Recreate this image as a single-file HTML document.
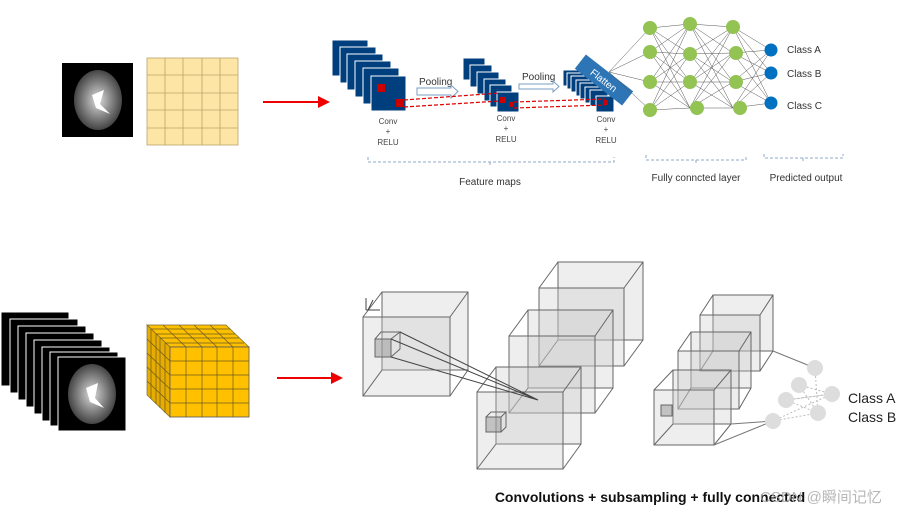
<!DOCTYPE html>
<html><head><meta charset="utf-8"><style>
body{margin:0;background:#fff;width:910px;height:517px;overflow:hidden}
svg{display:block;font-family:"Liberation Sans","Noto Sans CJK SC",sans-serif}
</style></head><body>
<svg width="910" height="517" viewBox="0 0 910 517">
<defs>
<marker id="ra" markerWidth="6" markerHeight="6" refX="5" refY="3" orient="auto"><path d="M0,0L6,3L0,6z" fill="#e00"/></marker>
<radialGradient id="br" cx="50%" cy="50%" r="50%"><stop offset="0" stop-color="#ddd"/><stop offset=".55" stop-color="#888"/><stop offset="1" stop-color="#444"/></radialGradient>
</defs>
<!-- top brain -->
<rect x="62" y="63" width="71" height="74" fill="#000"/>
<ellipse cx="98" cy="100" rx="24" ry="30" fill="url(#br)"/>
<path d="M92,95 L104,90 L100,104 L110,114 L96,108 Z" fill="#fff"/>
<!-- grid -->
<g fill="#fde5a5" stroke="#b9a46a" stroke-width="0.8">
<rect x="147" y="58" width="91" height="87"/>
</g>
<g stroke="#b9a46a" stroke-width="0.8">
<line x1="165" y1="58" x2="165" y2="145"/><line x1="183" y1="58" x2="183" y2="145"/><line x1="202" y1="58" x2="202" y2="145"/><line x1="220" y1="58" x2="220" y2="145"/>
<line x1="147" y1="75" x2="238" y2="75"/><line x1="147" y1="93" x2="238" y2="93"/><line x1="147" y1="110" x2="238" y2="110"/><line x1="147" y1="128" x2="238" y2="128"/>
</g>
<line x1="263" y1="102" x2="328" y2="102" stroke="#e00" stroke-width="2" marker-end="url(#ra)"/>
<!-- stack 1 -->
<g fill="#003f7d" stroke="#fff" stroke-width="1">
<rect x="332" y="40" width="36" height="36"/><rect x="340" y="47" width="36" height="36"/><rect x="347" y="54" width="36" height="36"/><rect x="355" y="61" width="36" height="36"/><rect x="363" y="68" width="36" height="36"/><rect x="371" y="76" width="35" height="35"/>
</g>
<rect x="377" y="84" width="8" height="8" fill="#c00"/><rect x="396" y="99" width="8" height="8" fill="#c00"/>
<text x="419" y="85" font-size="10" fill="#333">Pooling</text>
<path d="M417,88h34v-3l7,6.5l-7,6.5v-3h-34z" fill="#fff" stroke="#7a9cc6"/>
<!-- stack 2 -->
<g fill="#003f7d" stroke="#fff" stroke-width="1">
<rect x="463" y="58" width="22" height="22"/><rect x="470" y="65" width="22" height="22"/><rect x="477" y="72" width="22" height="22"/><rect x="484" y="79" width="22" height="22"/><rect x="490" y="85" width="22" height="22"/><rect x="497" y="92" width="22" height="20"/>
</g>
<rect x="500" y="97" width="6" height="6" fill="#c00"/><rect x="509" y="102" width="5" height="5" fill="#c00"/>
<text x="522" y="80" font-size="10" fill="#333">Pooling</text>
<path d="M519,84h34v-3l6,5.5l-6,5.5v-3h-34z" fill="#fff" stroke="#7a9cc6"/>
<!-- stack 3 -->
<g fill="#003f7d" stroke="#fff" stroke-width="1">
<rect x="563" y="70" width="18" height="16"/><rect x="567" y="73" width="18" height="16"/><rect x="571" y="76" width="18" height="16"/><rect x="576" y="80" width="18" height="16"/><rect x="580" y="83" width="18" height="16"/><rect x="585" y="87" width="18" height="16"/><rect x="590" y="90" width="18" height="16"/><rect x="596" y="96" width="18" height="16"/>
</g>
<rect x="603" y="100" width="5" height="5" fill="#c00"/>
<g stroke="#d00" stroke-width="1.2" stroke-dasharray="4,2" fill="none">
<line x1="404" y1="100" x2="500" y2="93"/><line x1="404" y1="107" x2="500" y2="101"/>
<line x1="514" y1="102" x2="605" y2="99"/><line x1="514" y1="108" x2="605" y2="105"/>
</g>
<g transform="translate(604,80) rotate(38)">
<rect x="-30" y="-9" width="60" height="18" fill="#2e75b6"/>
<text x="0" y="4" font-size="10" fill="#fff" text-anchor="middle">Flatten</text>
</g>
<g font-size="8" fill="#444" text-anchor="middle">
<text x="388" y="124">Conv</text><text x="388" y="134">+</text><text x="388" y="145">RELU</text>
<text x="506" y="121">Conv</text><text x="506" y="131">+</text><text x="506" y="142">RELU</text>
<text x="606" y="122">Conv</text><text x="606" y="132">+</text><text x="606" y="143">RELU</text>
</g>
<g stroke="#8fa9c8" stroke-width="1" stroke-dasharray="3,2" fill="none">
<path d="M368,157v5h246v-5M490,162v5"/>
<path d="M646,155v5h100v-5M696,160v5"/>
<path d="M764,154v4h79v-4M803,158v5"/>
</g>
<g font-size="10" fill="#333" text-anchor="middle">
<text x="490" y="185">Feature maps</text>
<text x="696" y="181">Fully conncted layer</text>
<text x="806" y="181">Predicted output</text>
</g>
<!-- NN -->
<g stroke="#555" stroke-width="0.5">
<path d="M609,72L650,28M609,72L650,52M609,72L650,82M609,72L650,110"/>
<path d="M650,28L690,24M650,28L690,54M650,28L690,82M650,28L690,108M650,52L690,24M650,52L690,54M650,52L690,82M650,52L690,108M650,82L690,24M650,82L690,54M650,82L690,82M650,82L690,108M650,110L690,24M650,110L690,54M650,110L690,82M650,110L690,108"/>
<path d="M690,24L733,27M690,24L733,53M690,24L733,82M690,24L733,108M690,54L733,27M690,54L733,53M690,54L733,82M690,54L733,108M690,82L733,27M690,82L733,53M690,82L733,82M690,82L733,108M690,108L733,27M690,108L733,53M690,108L733,82M690,108L733,108"/>
<path d="M733,27L771,50M733,27L771,73M733,27L771,103M733,53L771,50M733,53L771,73M733,53L771,103M733,82L771,50M733,82L771,73M733,82L771,103M733,108L771,50M733,108L771,73M733,108L771,103"/>
</g>
<g fill="#92c353">
<circle cx="650" cy="28" r="7"/><circle cx="650" cy="52" r="7"/><circle cx="650" cy="82" r="7"/><circle cx="650" cy="110" r="7"/>
<circle cx="690" cy="24" r="7"/><circle cx="690" cy="54" r="7"/><circle cx="690" cy="82" r="7"/><circle cx="697" cy="108" r="7"/>
<circle cx="733" cy="27" r="7"/><circle cx="736" cy="53" r="7"/><circle cx="736" cy="82" r="7"/><circle cx="740" cy="108" r="7"/>
</g>
<g fill="#0070c0"><circle cx="771" cy="50" r="6.5"/><circle cx="771" cy="73" r="6.5"/><circle cx="771" cy="103" r="6.5"/></g>
<g font-size="10" fill="#333"><text x="787" y="53">Class A</text><text x="787" y="77">Class B</text><text x="787" y="109">Class C</text></g>

<!-- bottom image stack -->
<g fill="#000" stroke="#fff" stroke-width="1">
<rect x="1" y="312" width="68" height="74"/><rect x="10" y="319" width="68" height="74"/><rect x="18" y="326" width="68" height="74"/><rect x="26" y="333" width="68" height="74"/><rect x="34" y="340" width="68" height="74"/><rect x="42" y="347" width="68" height="74"/><rect x="50" y="352" width="68" height="74"/><rect x="58" y="357" width="68" height="74"/>
</g>
<ellipse cx="92" cy="394" rx="24" ry="30" fill="url(#br)"/>
<path d="M86,388 L98,383 L95,398 L104,408 L90,402 Z" fill="#fff"/>
<!-- yellow cube -->
<polygon points="147,325 226,325 249,347 170,347" fill="#fcc000" stroke="#7a6a30" stroke-width="0.7"/>
<polygon points="147,325 170,347 170,417 147,395" fill="#e6ac00" stroke="#7a6a30" stroke-width="0.7"/>
<rect x="170" y="347" width="79" height="70" fill="#ffc000" stroke="#555" stroke-width="0.8"/>
<g stroke="#6b5a20" stroke-width="0.7">
<line x1="186" y1="347" x2="186" y2="417"/><line x1="202" y1="347" x2="202" y2="417"/><line x1="217" y1="347" x2="217" y2="417"/><line x1="233" y1="347" x2="233" y2="417"/>
<line x1="170" y1="361" x2="249" y2="361"/><line x1="170" y1="375" x2="249" y2="375"/><line x1="170" y1="389" x2="249" y2="389"/><line x1="170" y1="403" x2="249" y2="403"/>
<line x1="151" y1="329" x2="230" y2="329"/><line x1="156" y1="334" x2="235" y2="334"/><line x1="160" y1="338" x2="239" y2="338"/><line x1="165" y1="343" x2="244" y2="343"/>
<line x1="163" y1="325" x2="186" y2="347"/><line x1="179" y1="325" x2="202" y2="347"/><line x1="194" y1="325" x2="217" y2="347"/><line x1="210" y1="325" x2="233" y2="347"/>
<line x1="151" y1="329" x2="151" y2="399"/><line x1="156" y1="334" x2="156" y2="404"/><line x1="160" y1="338" x2="160" y2="408"/><line x1="165" y1="343" x2="165" y2="413"/>
<line x1="147" y1="339" x2="170" y2="361"/><line x1="147" y1="353" x2="170" y2="375"/><line x1="147" y1="367" x2="170" y2="389"/><line x1="147" y1="381" x2="170" y2="403"/>
</g>
<line x1="277" y1="378" x2="341" y2="378" stroke="#e00" stroke-width="2" marker-end="url(#ra)"/>

<!-- gray cubes -->
<g stroke="#666" stroke-width="1" fill="rgba(200,200,200,0.3)">
<g id="c4"><rect x="558" y="262" width="85" height="78"/><rect x="539" y="288" width="85" height="78"/><path d="M539,288L558,262M624,288L643,262M624,366L643,340M539,366L558,340" fill="none"/></g>
<rect x="528" y="310" width="85" height="78"/><rect x="509" y="336" width="86" height="77"/><path d="M509,336L528,310M595,336L613,310M595,413L613,388M509,413L528,388" fill="none"/>
<rect x="382" y="292" width="86" height="78"/><rect x="363" y="317" width="87" height="79"/><path d="M363,317L382,292M450,317L468,292M450,396L468,370M363,396L382,370" fill="none"/>
<rect x="496" y="367" width="85" height="77"/><rect x="477" y="392" width="86" height="77"/><path d="M477,392L496,367M563,392L581,367M563,469L581,444M477,469L496,444" fill="none"/>
<rect x="375" y="339" width="16" height="18" fill="rgba(150,150,150,0.5)"/><path d="M375,339l6,-7h19l-9,7M400,332v17l-9,8" fill="none"/>
<rect x="486" y="417" width="15" height="15" fill="rgba(150,150,150,0.5)"/><path d="M486,417l5,-5h15l-5,5M506,412v15l-5,5" fill="none"/>
<path d="M400,332L538,400L391,357M391,339L538,400" fill="none" stroke="#444"/>
<path d="M366,310v-12M366,310h14M368,310l5,-10" fill="none" stroke="#444"/>
<!-- right cubes -->
<rect x="713" y="295" width="60" height="56"/><rect x="700" y="315" width="60" height="56"/><path d="M700,315L713,295M760,315L773,295M760,371L773,351M700,371L713,351" fill="none"/>
<rect x="691" y="332" width="60" height="56"/><rect x="678" y="351" width="61" height="58"/><path d="M678,351L691,332M739,351L751,332M739,409L751,388M678,409L691,388" fill="none"/>
<rect x="673" y="370" width="58" height="54"/><rect x="654" y="390" width="60" height="55"/><path d="M654,390L673,370M714,390L731,370M714,445L731,424M654,445L673,424" fill="none"/>
<rect x="661" y="405" width="11" height="11" fill="rgba(150,150,150,0.5)"/>
</g>
<g stroke="#777" fill="none"><path d="M773,351L815,368M731,424L773,421M714,445L773,421"/></g>
<g stroke="#bbb" stroke-dasharray="2,2" fill="none"><path d="M799,385L832,394L786,400L818,413L773,421L832,394M815,368L818,413M799,385L818,413M786,400L832,394"/></g>
<g fill="#ddd"><circle cx="815" cy="368" r="8"/><circle cx="799" cy="385" r="8"/><circle cx="786" cy="400" r="8"/><circle cx="832" cy="394" r="8"/><circle cx="818" cy="413" r="8"/><circle cx="773" cy="421" r="8"/></g>
<g font-size="14" fill="#222"><text x="848" y="403">Class A</text><text x="848" y="422">Class B</text></g>
<text x="650" y="502" font-size="14" font-weight="bold" fill="#111" text-anchor="middle">Convolutions + subsampling + fully connected</text>
<text x="760" y="502" font-size="15" fill="#aaa" fill-opacity="0.85">CSDN @瞬间记忆</text>
</svg>
</body></html>
